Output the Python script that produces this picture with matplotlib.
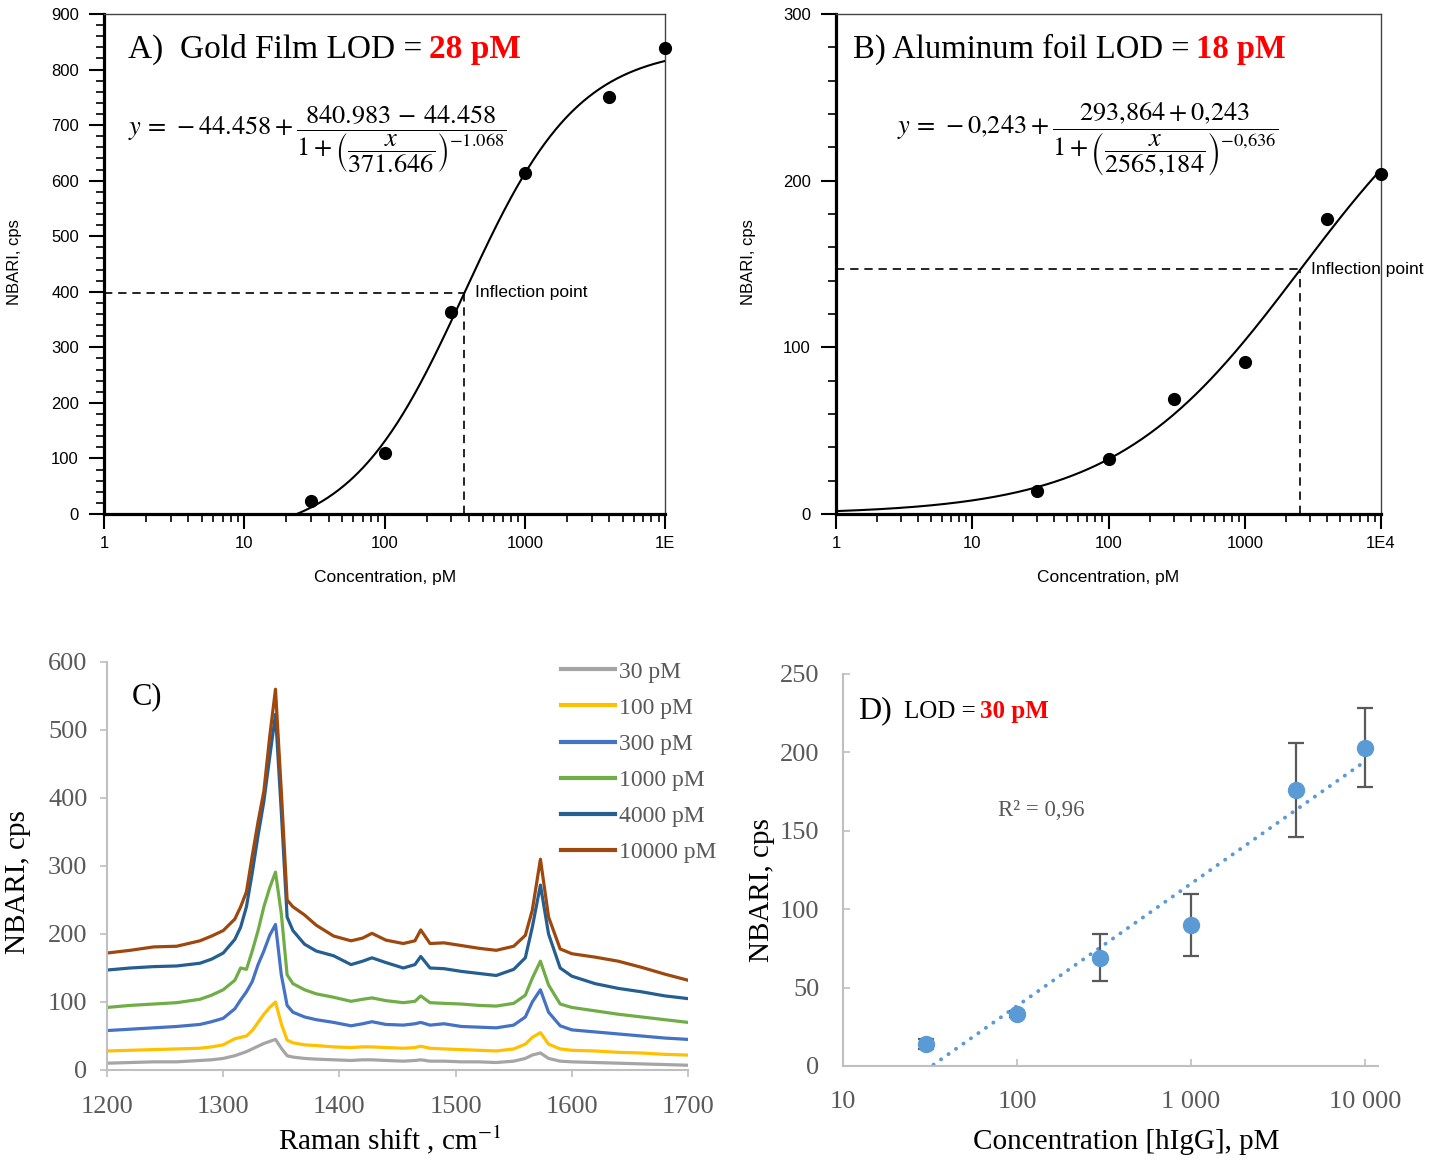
import numpy as np
import matplotlib
matplotlib.use("Agg")
import matplotlib.pyplot as plt
from matplotlib.ticker import FixedLocator, MultipleLocator, NullFormatter, LogLocator, NullLocator
from matplotlib.transforms import offset_copy

plt.rcParams['mathtext.fontset'] = 'stix'
plt.rcParams['font.family'] = ['Liberation Sans', 'DejaVu Sans']

# ---------------- data ----------------
conc = [30, 100, 300, 1000, 4000, 10000]
gold_nbari = [23, 109, 364, 614, 751, 839]
al_nbari = [14, 33, 69, 91, 177, 204]

# four-parameter logistic fits as printed on the panels
gold_bottom, gold_top, gold_ec50, gold_hill = -44.458, 840.983, 371.646, -1.068
al_bottom, al_top, al_ec50, al_hill = -0.243, 293.864, 2565.184, -0.636

ab_xticks = [1, 10, 100, 1000, 10000]
a_xticklabels = ['1', '10', '100', '1000', '1E']
b_xticklabels = ['1', '10', '100', '1000', '1E4']

# Raman spectra (panel C)
wavenumber = [1200, 1220, 1240, 1260, 1280, 1290, 1300, 1310, 1315, 1320, 1325, 1330,
              1335, 1340, 1345, 1350, 1355, 1360, 1370, 1380, 1395, 1410, 1420, 1428,
              1440, 1455, 1465, 1470, 1478, 1490, 1505, 1520, 1535, 1550, 1560, 1566,
              1573, 1580, 1590, 1600, 1620, 1640, 1660, 1680, 1700]
spec_30 = [10, 11, 12, 12, 14, 15, 17, 21, 24, 27, 31, 35, 39, 42, 45, 32, 21, 19, 17, 16,
           15, 14, 15, 15, 14, 13, 14, 15, 13, 13, 12, 12, 11, 13, 17, 22, 25, 17, 13, 12,
           11, 10, 9, 8, 7]
spec_100 = [28, 29, 30, 31, 32, 34, 37, 46, 48, 50, 58, 70, 82, 92, 100, 68, 44, 40, 37, 36,
            34, 33, 34, 34, 33, 32, 33, 35, 32, 31, 30, 29, 28, 31, 38, 48, 55, 38, 31, 29,
            28, 26, 25, 23, 22]
spec_300 = [58, 60, 62, 64, 67, 71, 76, 90, 103, 115, 130, 155, 175, 198, 214, 140, 95, 85,
            78, 74, 70, 65, 68, 71, 67, 66, 68, 70, 66, 68, 64, 63, 62, 66, 78, 100, 118, 85,
            65, 59, 56, 53, 50, 47, 45]
spec_1000 = [92, 95, 97, 99, 104, 110, 118, 132, 150, 148, 175, 205, 240, 268, 291, 230, 140,
             127, 118, 112, 107, 101, 104, 106, 102, 99, 101, 109, 99, 98, 97, 95, 94, 98, 110,
             135, 160, 125, 97, 92, 87, 82, 78, 74, 70]
spec_4000 = [147, 150, 152, 153, 157, 163, 172, 192, 210, 240, 290, 345, 395, 460, 523, 380,
             225, 205, 185, 175, 168, 155, 160, 165, 158, 150, 155, 167, 150, 149, 145, 142,
             139, 148, 165, 210, 272, 200, 150, 138, 127, 120, 115, 109, 105]
spec_10000 = [172, 176, 181, 182, 190, 197, 205, 222, 240, 262, 315, 365, 410, 490, 560, 410,
              250, 240, 228, 213, 197, 190, 194, 201, 191, 186, 190, 206, 186, 187, 183, 179,
              176, 182, 198, 235, 310, 225, 178, 171, 166, 160, 151, 141, 132]
spec_labels = ['30 pM', '100 pM', '300 pM', '1000 pM', '4000 pM', '10000 pM']
spec_colors = ['#A5A5A5', '#FFC000', '#4472C4', '#70AD47', '#255E91', '#9E480E']

# Calibration (panel D)
conc_d = [30, 100, 300, 1000, 4000, 10000]
nbari_d = [14, 33, 69, 90, 176, 203]
err_d = [3, 2, 15, 20, 30, 25]
d_xticks = [10, 100, 1000, 10000]
d_xticklabels = ['10', '100', '1 000', '10 000']

W, H = 1443, 1162
fig = plt.figure(figsize=(W / 100, H / 100), dpi=100)


def fx(px):
    return px / W


def fy(py):
    return 1 - py / H


axA = fig.add_axes([fx(104), fy(514), (665 - 104) / W, 500 / H])
axB = fig.add_axes([fx(836), fy(514), (1381 - 836) / W, 500 / H])
axC = fig.add_axes([fx(107), fy(1070), 581 / W, 408 / H])
axD = fig.add_axes([fx(843), fy(1066), 535 / W, 392 / H])

SERIF = ['Liberation Serif', 'DejaVu Serif']
renderer = fig.canvas.get_renderer()


def rich(ax, x, y, parts, transform):
    """Draw consecutive text pieces sharing a baseline."""
    offset = 0.0
    for s, kw, gap in parts:
        offset += gap
        tr = offset_copy(transform, fig=fig, x=offset, units='dots')
        t = ax.text(x, y, s, transform=tr, ha='left', va='baseline', **kw)
        offset += t.get_window_extent(renderer).width


def logistic(x, bottom, top, ec50, hill):
    return bottom + (top - bottom) / (1 + (x / ec50) ** hill)


# ---------------- panels A and B ----------------
for ax, yvals, pars, ymax, yminor, xtl in [
        (axA, gold_nbari, (gold_bottom, gold_top, gold_ec50, gold_hill), 900, 20, a_xticklabels),
        (axB, al_nbari, (al_bottom, al_top, al_ec50, al_hill), 300, 20, b_xticklabels)]:
    ax.set_xscale('log')
    ax.set_xlim(1, 1e4)
    ax.set_ylim(0, ymax)
    xs = np.logspace(0, 4, 500)
    ax.plot(xs, logistic(xs, *pars), color='black', lw=1.5, zorder=3)
    ax.plot(conc, yvals, 'o', color='black', ms=8.5, zorder=4, clip_on=False)
    xinf = pars[2]
    yinf = logistic(xinf, *pars)
    ax.plot([1, xinf], [yinf, yinf], color='black', lw=1.2, ls=(0, (5, 3.5)))
    ax.plot([xinf, xinf], [0, yinf], color='black', lw=1.2, ls=(0, (5, 3.5)))
    ax.text(xinf * 1.19, yinf, 'Inflection point', fontsize=12.5, va='center', ha='left')
    ax.set_xticks(ab_xticks)
    ax.set_xticklabels(xtl)
    ax.xaxis.set_minor_locator(LogLocator(base=10, subs=np.arange(2, 10)))
    ax.xaxis.set_minor_formatter(NullFormatter())
    ax.yaxis.set_major_locator(MultipleLocator(100))
    ax.yaxis.set_minor_locator(MultipleLocator(yminor))
    ax.tick_params(which='major', direction='out', length=11, width=1.5, labelsize=12,
                   pad=5, top=False, right=False)
    ax.tick_params(axis='y', which='major', pad=7)
    ax.tick_params(which='minor', direction='out', length=6, width=1.2, top=False, right=False)
    for sp in ('left', 'bottom'):
        ax.spines[sp].set_linewidth(2.3)
        ax.spines[sp].set_color('black')
    for sp in ('top', 'right'):
        ax.spines[sp].set_linewidth(1.0)
        ax.spines[sp].set_color('#444444')

fig.text(fx(15), fy(262), 'NBARI, cps', rotation=90, ha='center', va='center', fontsize=12)
fig.text(fx(385), fy(577), 'Concentration, pM', ha='center', va='center', fontsize=12.5)
fig.text(fx(748), fy(262), 'NBARI, cps', rotation=90, ha='center', va='center', fontsize=12)
fig.text(fx(1108), fy(577), 'Concentration, pM', ha='center', va='center', fontsize=12.5)

rich(axA, (128 - 104) / 561, (514 - 58) / 500,
     [('A)  Gold Film LOD =', dict(fontsize=24, family=SERIF, color='black'), 0),
      ('28 pM', dict(fontsize=24, family=SERIF, color='#FF0000', weight='bold'), 7)],
     axA.transAxes)
rich(axB, (853 - 836) / 545, (514 - 58) / 500,
     [('B) Aluminum foil LOD =', dict(fontsize=23.5, family=SERIF, color='black'), 0),
      ('18 pM', dict(fontsize=23.5, family=SERIF, color='#FF0000', weight='bold'), 7)],
     axB.transAxes)

eqA = (r'$y\,=\,-44.458+\dfrac{840.983\,-\,44.458}'
       r'{1+\left(\dfrac{x}{371.646}\right)^{-1.068}}$')
eqB = (r'$y\,=\,-0{,}243+\dfrac{293{,}864+0{,}243}'
       r'{1+\left(\dfrac{x}{2565{,}184}\right)^{-0{,}636}}$')
axA.text((128 - 104) / 561, (514 - 139) / 500, eqA, transform=axA.transAxes,
         fontsize=19, ha='left', va='center')
axB.text((897 - 836) / 545, (514 - 139) / 500, eqB, transform=axB.transAxes,
         fontsize=19, ha='left', va='center')

# ---------------- panel C ----------------
spectra = [spec_30, spec_100, spec_300, spec_1000, spec_4000, spec_10000]
for s, lab, col in zip(spectra, spec_labels, spec_colors):
    axC.plot(wavenumber, s, color=col, lw=2.3, label=lab)
axC.set_xlim(1200, 1700)
axC.set_ylim(0, 600)
axC.xaxis.set_major_locator(MultipleLocator(100))
axC.yaxis.set_major_locator(MultipleLocator(100))
for sp in ('top', 'right'):
    axC.spines[sp].set_visible(False)
for sp in ('left', 'bottom'):
    axC.spines[sp].set_color('#BFBFBF')
    axC.spines[sp].set_linewidth(1.5)
axC.tick_params(direction='out', length=5, width=1.2, color='#BFBFBF', labelcolor='#595959',
                labelsize=19)
axC.tick_params(axis='x', pad=14)
axC.tick_params(axis='y', pad=9)
for lbl in axC.get_xticklabels() + axC.get_yticklabels():
    lbl.set_family(SERIF)
leg = axC.legend(loc='upper left', bbox_to_anchor=(fx(561), fy(661)), bbox_transform=fig.transFigure,
                 frameon=False, prop={'family': SERIF, 'size': 17}, handlelength=2.3,
                 handletextpad=0.15, labelspacing=0.62, borderpad=0, borderaxespad=0,
                 labelcolor='#595959')
for l in leg.get_lines():
    l.set_linewidth(3)
axC.text((132 - 107) / 581, (1070 - 697) / 408, 'C)', transform=axC.transAxes, fontsize=22,
         family=SERIF, va='center', ha='left')
fig.text(fx(18), fy(882), 'NBARI, cps', rotation=90, ha='center', va='center', fontsize=21,
         family=SERIF)
fig.text(fx(390), fy(1140), r'Raman shift , cm$^{-1}$', ha='center', va='center', fontsize=21,
         family=SERIF)

# ---------------- panel D ----------------
axD.set_xscale('log')
axD.set_xlim(10, 11880)
axD.set_ylim(0, 250)
coef = np.polyfit(np.log10(conc_d), nbari_d, 1)
xt = np.logspace(np.log10(conc_d[0]), np.log10(conc_d[-1]), 200)
axD.plot(xt, np.polyval(coef, np.log10(xt)), color='#5B9BD5', lw=2.8,
         ls=(0, (0.05, 2.3)), dash_capstyle='round', zorder=2)
axD.errorbar(conc_d, nbari_d, yerr=err_d, fmt='o', color='#5B9BD5', ms=11.5, ecolor='#595959',
             elinewidth=1.6, capsize=6, capthick=1.6, zorder=3)
axD.set_xticks(d_xticks)
axD.set_xticklabels(d_xticklabels)
axD.xaxis.set_minor_locator(NullLocator())
axD.yaxis.set_major_locator(MultipleLocator(50))
for sp in ('top', 'right'):
    axD.spines[sp].set_visible(False)
for sp in ('left', 'bottom'):
    axD.spines[sp].set_color('#BFBFBF')
    axD.spines[sp].set_linewidth(1.5)
axD.tick_params(direction='in', length=5, width=1.2, color='#BFBFBF', labelcolor='#595959',
                labelsize=19)
axD.tick_params(axis='x', pad=18)
axD.tick_params(axis='y', pad=17)
for lbl in axD.get_xticklabels() + axD.get_yticklabels():
    lbl.set_family(SERIF)
rich(axD, (858 - 843) / 535, (1066 - 718) / 392,
     [('D)', dict(fontsize=23, family=SERIF, color='black'), 0),
      ('LOD =', dict(fontsize=18, family=SERIF, color='black'), 12),
      ('30 pM', dict(fontsize=18, family=SERIF, color='#FF0000', weight='bold'), 5)],
     axD.transAxes)
axD.text((998 - 843) / 535, (1066 - 810) / 392, 'R² = 0,96', transform=axD.transAxes,
         fontsize=16.5, family=SERIF, color='#595959', va='center', ha='left')
fig.text(fx(762), fy(890), 'NBARI, cps', rotation=90, ha='center', va='center', fontsize=21,
         family=SERIF)
fig.text(fx(1126), fy(1142), 'Concentration [hIgG], pM', ha='center', va='center', fontsize=21,
         family=SERIF)

fig.savefig('out.png', dpi=100)
